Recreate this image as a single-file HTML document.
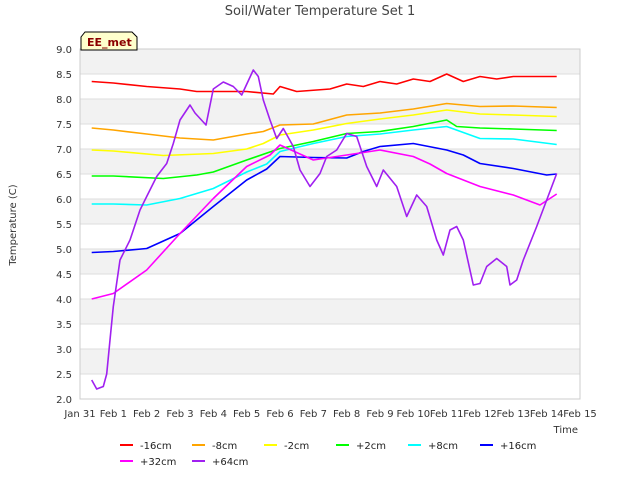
<!DOCTYPE html>
<html><head><meta charset="utf-8"><style>
body{margin:0;background:#fff;font-family:"DejaVu Sans","Liberation Sans",sans-serif}
</style></head><body>
<svg id="c" width="640" height="480" xmlns="http://www.w3.org/2000/svg" font-family="DejaVu Sans, Liberation Sans, sans-serif">
<text x="320" y="15" text-anchor="middle" font-size="13" fill="#444">Soil/Water Temperature Set 1</text>
<g id="bands"></g><g id="grid"></g><g id="ticks"></g><g id="series"></g>
<text x="16" y="225" transform="rotate(-90 16 225)" text-anchor="middle" font-size="10" fill="#333">Temperature (C)</text>
<text x="578" y="433" text-anchor="end" font-size="10" fill="#333">Time</text>
<g><path d="M81 50 L81 37 L85 32 L132 32 L137 37 L137 50 Z" fill="#ffffcc" stroke="#000"/><text x="87" y="46" font-size="11" font-weight="bold" fill="#8b0000">EE_met</text></g>
<g id="legend"></g>
</svg>
<script>
const names=["-16cm","-8cm","-2cm","+2cm","+8cm","+16cm","+32cm","+64cm"];
const colors=["#ff0000","#ffa500","#ffff00","#00ff00","#00ffff","#0000ff","#ff00ff","#a020f0"];
const xTicks=["Jan 31","Feb 1","Feb 2","Feb 3","Feb 4","Feb 5","Feb 6","Feb 7","Feb 8","Feb 9","Feb 10","Feb 11","Feb 12","Feb 13","Feb 14","Feb 15"];
const yTicks=[2.0,2.5,3.0,3.5,4.0,4.5,5.0,5.5,6.0,6.5,7.0,7.5,8.0,8.5,9.0];
const s16=[[0.35,8.35],[1,8.32],[2,8.25],[3,8.2],[3.5,8.15],[4,8.15],[5,8.15],[5.8,8.1],[6,8.25],[6.5,8.15],[7.5,8.2],[8,8.3],[8.5,8.25],[9,8.35],[9.5,8.3],[10,8.4],[10.5,8.35],[11,8.5],[11.5,8.35],[12,8.45],[12.5,8.4],[13,8.45],[14.3,8.45]];
const s8=[[0.35,7.42],[1,7.38],[2,7.3],[3,7.22],[4,7.18],[5,7.3],[5.5,7.35],[6,7.48],[7,7.5],[8,7.68],[9,7.72],[10,7.8],[11,7.91],[12,7.85],[13,7.86],[14.3,7.83]];
const s2n=[[0.35,6.98],[1,6.96],[2.5,6.87],[4,6.91],[5,7.0],[5.5,7.11],[6,7.28],[7,7.38],[8,7.51],[9,7.6],[10,7.68],[11,7.78],[12,7.7],[13,7.68],[14.3,7.65]];
const s2p=[[0.35,6.46],[1,6.46],[2.5,6.41],[3.5,6.48],[4,6.54],[5,6.78],[6,7.01],[7,7.15],[8,7.31],[9,7.35],[10,7.45],[11,7.58],[11.3,7.45],[12,7.42],[13,7.4],[14.3,7.37]];
const s8p=[[0.35,5.9],[1,5.9],[2,5.88],[3,6.01],[4,6.21],[5,6.54],[5.6,6.7],[6,6.95],[7,7.11],[8,7.25],[9,7.3],[10,7.38],[11,7.45],[12,7.21],[13,7.2],[14.3,7.09]];
const s16p=[[0.35,4.93],[1,4.95],[2,5.01],[3,5.31],[4,5.85],[5,6.38],[5.6,6.6],[6,6.85],[7,6.83],[8,6.82],[8.5,6.95],[9,7.05],[10,7.11],[11,6.98],[11.5,6.88],[12,6.71],[13,6.61],[14,6.48],[14.3,6.5]];
const s32=[[0.35,4.0],[1,4.11],[2,4.58],[3,5.31],[4,6.01],[5,6.65],[5.7,6.88],[6,7.08],[7,6.78],[8,6.88],[9,6.98],[10,6.85],[10.5,6.7],[11,6.51],[12,6.25],[13,6.08],[13.8,5.88],[14.3,6.1]];
const s64=[[0.35,2.38],[0.5,2.2],[0.7,2.25],[0.8,2.5],[0.9,3.18],[1.0,3.85],[1.2,4.78],[1.5,5.18],[1.8,5.78],[2.0,6.05],[2.3,6.45],[2.6,6.71],[2.8,7.11],[3.0,7.58],[3.3,7.88],[3.45,7.72],[3.78,7.48],[4.0,8.2],[4.3,8.34],[4.6,8.25],[4.85,8.08],[5.2,8.58],[5.35,8.45],[5.5,7.98],[5.7,7.58],[5.9,7.21],[6.1,7.41],[6.4,7.05],[6.6,6.58],[6.9,6.25],[7.2,6.51],[7.4,6.85],[7.7,6.98],[8.0,7.31],[8.3,7.25],[8.6,6.65],[8.9,6.25],[9.1,6.58],[9.5,6.25],[9.8,5.65],[10.1,6.08],[10.4,5.85],[10.7,5.18],[10.9,4.88],[11.1,5.38],[11.3,5.45],[11.5,5.18],[11.8,4.28],[12.0,4.31],[12.2,4.65],[12.5,4.81],[12.8,4.65],[12.9,4.28],[13.1,4.38],[13.3,4.78],[13.7,5.45],[14.0,5.98],[14.3,6.51]];
const seriesData=[s16,s8,s2n,s2p,s8p,s16p,s32,s64];
const X0=80,X1=580,Y0=399,Y1=49;
const xs=d=>X0+(X1-X0)*d/15, ys=v=>Y0-(Y0-Y1)*(v-2)/7;
const NS="http://www.w3.org/2000/svg";
function mk(t,a,p){const e=document.createElementNS(NS,t);for(const k in a)e.setAttribute(k,a[k]);p.appendChild(e);return e;}
const bands=document.getElementById('bands'),grid=document.getElementById('grid'),ticks=document.getElementById('ticks');
for(let i=0;i<yTicks.length-1;i++){const lo=yTicks[i],hi=yTicks[i+1];
 const r=mk('rect',{x:X0,y:ys(hi),width:X1-X0,height:ys(lo)-ys(hi),fill:(i%2==1)?'#f2f2f2':'#ffffff'},bands);
 
 }
yTicks.forEach(v=>{const l=mk('line',{x1:X0,x2:X1,y1:ys(v),y2:ys(v),stroke:'#dddddd'},grid);
 
 
 const t=mk('text',{x:X0-8,y:ys(v)+4,'text-anchor':'end','font-size':10,fill:'#333'},ticks);t.textContent=v.toFixed(1);
 
 });
mk('rect',{x:X0,y:Y1,width:X1-X0,height:Y0-Y1,fill:'none',stroke:'#cccccc'},grid);
xTicks.forEach((s,i)=>{const t=mk('text',{x:xs(i),y:Y0+18,'text-anchor':'middle','font-size':10,fill:'#333'},ticks);t.textContent=s;
 
 });
const sg=document.getElementById('series');
seriesData.forEach((d,i)=>{const p=mk('polyline',{points:d.map(q=>xs(q[0]).toFixed(1)+','+ys(q[1]).toFixed(1)).join(' '),fill:'none',stroke:colors[i],'stroke-width':1.6,'stroke-linejoin':'round'},sg);
 
 });
const lg=document.getElementById('legend');
names.forEach((n,i)=>{const col=i<6?i:i-6,row=i<6?0:1;const x=120+col*72,y=445+row*16;
 const g=mk('g',{},lg);
 
 
 mk('line',{x1:x,x2:x+13,y1:y,y2:y,stroke:colors[i],'stroke-width':2},g);
 const t=mk('text',{x:x+20,y:y+4,'font-size':10,fill:'#222'},g);t.textContent=n;});
</script>
</body></html>
